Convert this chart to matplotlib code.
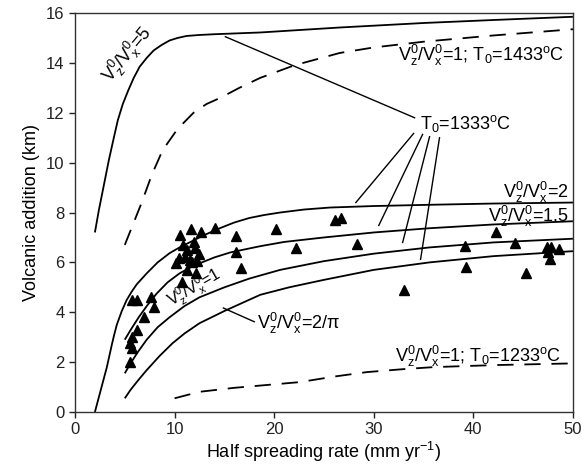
import numpy as np
import matplotlib
matplotlib.use("Agg")
import matplotlib.pyplot as plt

plt.rcParams["font.family"] = ["Liberation Sans", "DejaVu Sans"]
plt.rcParams["mathtext.default"] = "regular"

# Model curves: half spreading rate (mm/yr) vs volcanic addition (km)
rate_v5 = [2, 2.4, 2.8, 3.1, 3.4, 3.9, 4.3, 4.8, 5.35, 5.9, 6.5, 7.2, 7.9, 8.7,
           9.5, 10.3, 11.2, 12.5, 14, 18.6, 26.6, 35, 42, 50]
thick_v5 = [7.2, 8.1, 8.9, 9.5, 10.1, 11.0, 11.7, 12.35, 12.9, 13.4, 13.85,
            14.2, 14.5, 14.72, 14.9, 15.0, 15.08, 15.12, 15.15, 15.22, 15.42,
            15.6, 15.72, 15.85]

rate_v2 = [2, 2.3, 2.6, 2.9, 3.2, 3.45, 3.7, 3.95, 4.2, 4.7, 5.2, 5.7, 6.2,
           7.2, 8.3, 9.5, 10.5, 11.5, 13, 14.6, 16, 17.5, 19, 20.6, 23, 25.6,
           30, 35.6, 42, 50]
thick_v2 = [0, 0.45, 0.9, 1.35, 1.8, 2.25, 2.7, 3.12, 3.5, 4.05, 4.5, 4.83,
            5.12, 5.56, 6.0, 6.37, 6.6, 6.8, 7.1, 7.38, 7.6, 7.78, 7.9, 8.0,
            8.12, 8.2, 8.26, 8.31, 8.36, 8.4]

rate_v15 = [5, 5.6, 6.4, 7.3, 8.2, 9.3, 10.5, 11.5, 12.5, 14, 15.6, 18.6, 21,
            25, 30, 35.6, 42, 50]
thick_v15 = [2.9, 3.3, 3.8, 4.3, 4.75, 5.2, 5.56, 5.78, 5.96, 6.2, 6.4, 6.65,
             6.82, 7.0, 7.2, 7.37, 7.52, 7.65]

rate_v1 = [5, 5.5, 6.3, 7.2, 8.3, 9.5, 11, 12.5, 15, 17.5, 20.6, 25, 30, 35.6,
           42, 50]
thick_v1 = [1.55, 1.9, 2.4, 2.9, 3.4, 3.8, 4.25, 4.6, 5.0, 5.35, 5.7, 6.05,
            6.35, 6.6, 6.8, 6.95]

rate_v2pi = [5, 5.6, 6.4, 7.2, 8.5, 9.8, 11, 12.5, 15, 18.6, 21.5, 25, 30,
             35.6, 42, 50]
thick_v2pi = [0.55, 0.9, 1.3, 1.68, 2.25, 2.76, 3.15, 3.56, 4.05, 4.7, 5.0,
              5.3, 5.7, 6.0, 6.25, 6.45]

# Mantle potential temperature variants (Vz/Vx = 1)
rate_t1433 = [5, 5.8, 6.7, 7.7, 8.8, 10.3, 11.9, 13.2, 14.6, 16.5, 18.6, 22,
              26.6, 30, 35, 42, 50]
thick_t1433 = [6.7, 7.5, 8.4, 9.5, 10.5, 11.35, 12.0, 12.35, 12.6, 13.0, 13.4,
               13.9, 14.4, 14.62, 14.85, 15.1, 15.35]

rate_t1233 = [10, 12.5, 16, 22.6, 26, 29.3, 33, 36, 42, 50]
thick_t1233 = [0.55, 0.81, 0.97, 1.2, 1.42, 1.6, 1.72, 1.8, 1.88, 1.95]

# Observed ridge segments
obs_rate = [5.5, 5.7, 5.5, 5.7, 6.2, 6.9, 7.9, 5.7, 6.2, 7.6,
            10.5, 11.6, 12.7, 14.1, 16.2, 10.8, 11.9, 11.2, 12.1, 12.5,
            10.4, 11.0, 11.5, 10.1, 11.7, 12.3, 11.2, 12.2, 10.7, 16.2, 16.7,
            20.2, 22.2, 26.1, 26.7, 28.3, 33.0, 39.2, 39.3, 42.3, 44.2, 45.3,
            47.4, 47.8, 48.6, 47.5, 47.7]
obs_thick = [2.02, 2.55, 2.75, 3.02, 3.29, 3.82, 4.2, 4.49, 4.5, 4.62,
             7.1, 7.33, 7.23, 7.37, 7.06, 6.7, 6.83, 6.5, 6.56, 6.35,
             6.16, 6.2, 6.1, 5.96, 6.03, 6.05, 5.69, 5.56, 5.22, 6.43, 5.76,
             7.33, 6.56, 7.7, 7.77, 6.74, 4.89, 6.66, 5.8, 7.23, 6.76, 5.59,
             6.63, 6.63, 6.52, 6.43, 6.12]

# Leader lines for the T0=1333 label: (start, end) points
leader_start = [(34.1, 11.8), (34.0, 11.17), (34.9, 11.13), (35.6, 11.04), (36.6, 11.0)]
leader_end = [(15.1, 15.05), (28.2, 8.4), (30.5, 7.48), (32.9, 6.8), (34.7, 6.12)]

fig = plt.figure(figsize=(5.84, 4.72), dpi=100)
ax = fig.add_axes([0.1284, 0.1271, 0.8527, 0.8453])

lw = 1.3
for xs, ys in [(rate_v5, thick_v5), (rate_v2, thick_v2), (rate_v15, thick_v15),
               (rate_v1, thick_v1), (rate_v2pi, thick_v2pi)]:
    ax.plot(xs, ys, color="black", lw=lw, solid_capstyle="butt")

dash = (0, (9, 6))
ax.plot(rate_t1433, thick_t1433, color="black", lw=lw, linestyle=dash)
ax.plot(rate_t1233, thick_t1233, color="black", lw=lw, linestyle=dash)

ax.plot(obs_rate, obs_thick, linestyle="none", marker="^", color="black",
        markersize=6.5)

for (x0, y0), (x1, y1) in zip(leader_start, leader_end):
    ax.plot([x0, x1], [y0, y1], color="black", lw=1.0)
ax.plot([14.9, 18.0], [4.17, 3.62], color="black", lw=1.0)

fs = 13
ax.text(5.3, 14.35, r"$V_z^0/V_x^0$=5", rotation=50, fontsize=fs,
        ha="center", va="center")
ax.text(32.4, 14.3, r"$V_z^0/V_x^0$=1; $T_0$=1433$^o$C", fontsize=fs,
        ha="left", va="center")
ax.text(34.6, 11.55, r"$T_0$=1333$^o$C", fontsize=fs, ha="left", va="center")
ax.text(49.6, 8.8, r"$V_z^0/V_x^0$=2", fontsize=fs, ha="right", va="center")
ax.text(49.6, 7.85, r"$V_z^0/V_x^0$=1.5", fontsize=fs, ha="right", va="center")
ax.text(12.0, 4.98, r"$V_z^0/V_x^0$=1", rotation=30, fontsize=11.5,
        ha="center", va="center")
ax.text(18.3, 3.55, r"$V_z^0/V_x^0$=2/$\pi$", fontsize=fs, ha="left",
        va="center")
ax.text(32.1, 2.22, r"$V_z^0/V_x^0$=1; $T_0$=1233$^o$C", fontsize=fs,
        ha="left", va="center")

ax.set_xlim(0, 50)
ax.set_ylim(0, 16)
ax.set_xticks(np.arange(0, 51, 10))
ax.set_yticks(np.arange(0, 17, 2))
ax.tick_params(direction="out", length=4, width=1, labelsize=12,
               colors="#222222")
for sp in ax.spines.values():
    sp.set_color("#333333")
    sp.set_linewidth(1.0)

ax.set_xlabel(r"Half spreading rate (mm yr$^{-1}$)", fontsize=13, labelpad=2)
ax.set_ylabel("Volcanic addition (km)", fontsize=13, labelpad=4)

fig.savefig("out.png", dpi=100)
